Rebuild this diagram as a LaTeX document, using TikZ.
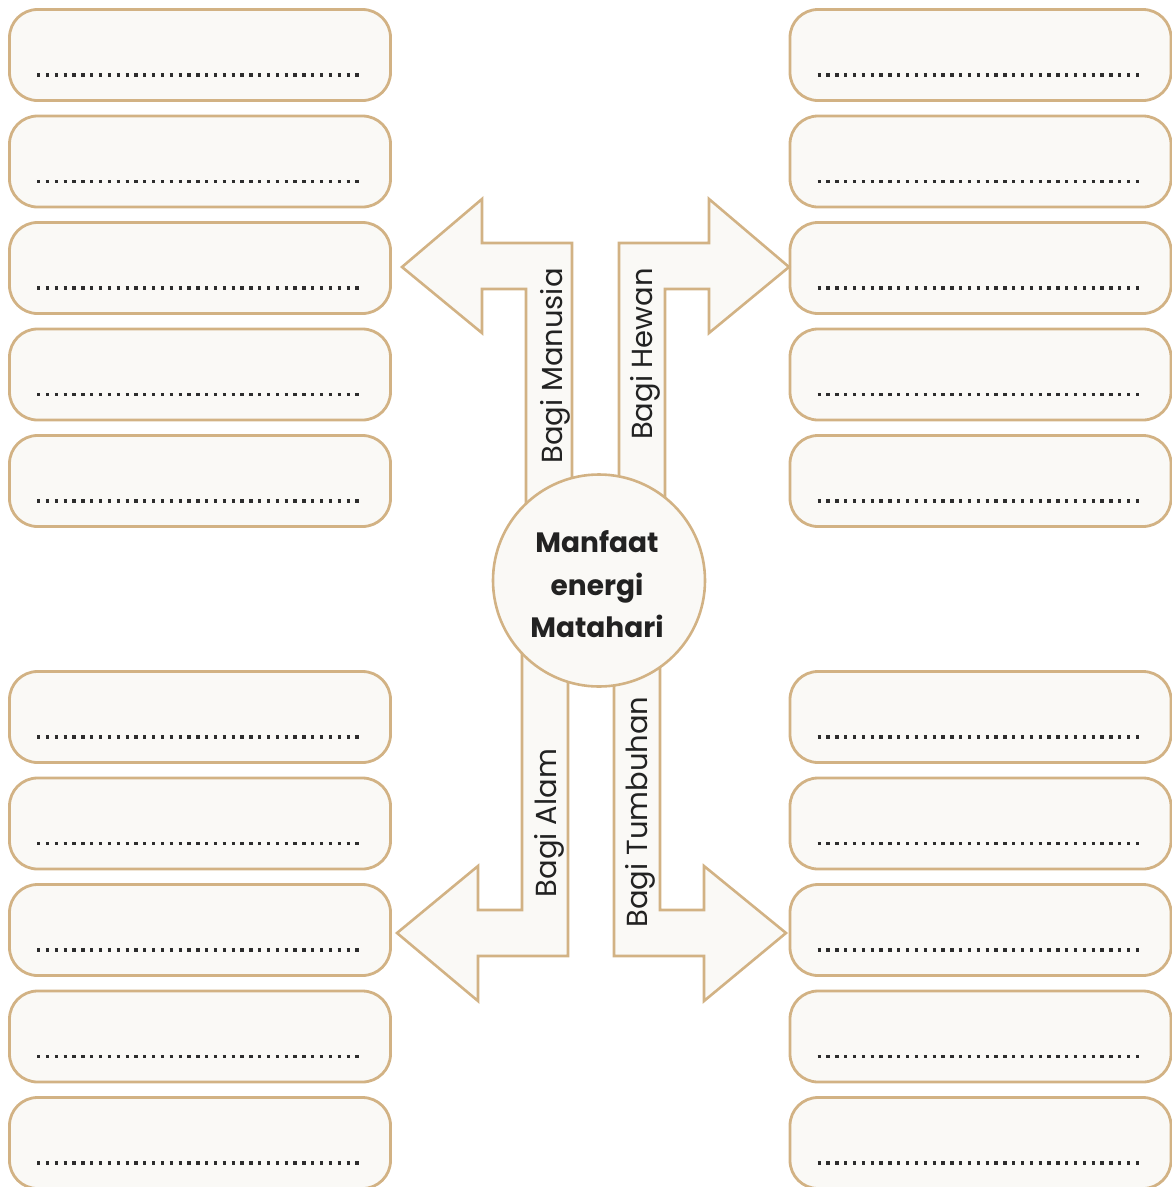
\documentclass[tikz,border=0pt]{standalone}
\usepackage{fontspec}
\setmainfont{Poppins}
\definecolor{tan}{HTML}{D2B284}
\definecolor{paper}{HTML}{FAF9F6}
\definecolor{ink}{HTML}{222222}
\tikzset{
  slot/.style={draw=tan, line width=2.8pt, fill=paper, rounded corners=28pt,
    minimum width=381pt, minimum height=91pt, inner sep=0pt},
  dotline/.style={draw=ink!95, line width=3.3pt, dash pattern=on 3.3pt off 5.54pt},
  blockarrow/.style={draw=tan, line width=2.6pt, fill=paper, line join=miter},
  hub/.style={circle, draw=tan, line width=2.6pt, fill=paper, minimum size=212pt, inner sep=0pt,
    align=center, font=\bfseries\fontsize{28}{42}\selectfont, text=ink},
  lbl/.style={rotate=90, anchor=base, inner sep=0pt, text=ink}
}
\begin{document}
\begin{tikzpicture}[x=1pt,y=-1pt]
\useasboundingbox (0,0) rectangle (1171,1187);
% boxes
\foreach \side/\cx in {L/200,R/980.5}{
  \foreach \i/\cy in {1/55,2/161.5,3/268,4/374.5,5/481,6/717,7/823.5,8/930,9/1036.5,10/1143}{
    \node[slot] (\side\i) at (\cx,\cy) {};
    \draw[dotline] ([xshift=29pt,yshift=-20pt]\side\i.west) -- ++(321.7,0);
  }
}
% block arrows
\draw[blockarrow] (526,560) -- (526,289) -- (482,289) -- (482,333) -- (402,267) -- (482,199) -- (482,243) -- (572,243) -- (572,560);
\draw[blockarrow] (619,560) -- (619,243) -- (709,243) -- (709,199) -- (789,267) -- (709,333) -- (709,289) -- (665,289) -- (665,560);
\draw[blockarrow] (522,600) -- (522,910) -- (478,910) -- (478,866) -- (397,933) -- (478,1001) -- (478,956) -- (568,956) -- (568,600);
\draw[blockarrow] (614,600) -- (614,956) -- (704,956) -- (704,1001) -- (786,933) -- (704,866) -- (704,910) -- (660,910) -- (660,600);
% hub
\node[hub] (hub) at (599,580.5) {};
\node[font=\bfseries\fontsize{28}{42}\selectfont, text=ink, anchor=base] (t1) at (597,552) {Manfaat};
\node[font=\bfseries\fontsize{28}{42}\selectfont, text=ink, anchor=base] (t2) at (597,595) {energi};
\node[font=\bfseries\fontsize{28}{42}\selectfont, text=ink, anchor=base] (t3) at (597,637) {Matahari};
% labels
\node[lbl, font=\fontsize{29}{34}\selectfont] (lm) at (562,366) {Bagi Manusia};
\node[lbl, font=\fontsize{29}{34}\selectfont] (lh) at (652,354) {Bagi Hewan};
\node[lbl, font=\fontsize{29}{34}\selectfont] (la) at (556,823) {Bagi Alam};
\node[lbl, font=\fontsize{29}{34}\selectfont] (lt) at (647,812) {Bagi Tumbuhan};
\end{tikzpicture}
\end{document}
